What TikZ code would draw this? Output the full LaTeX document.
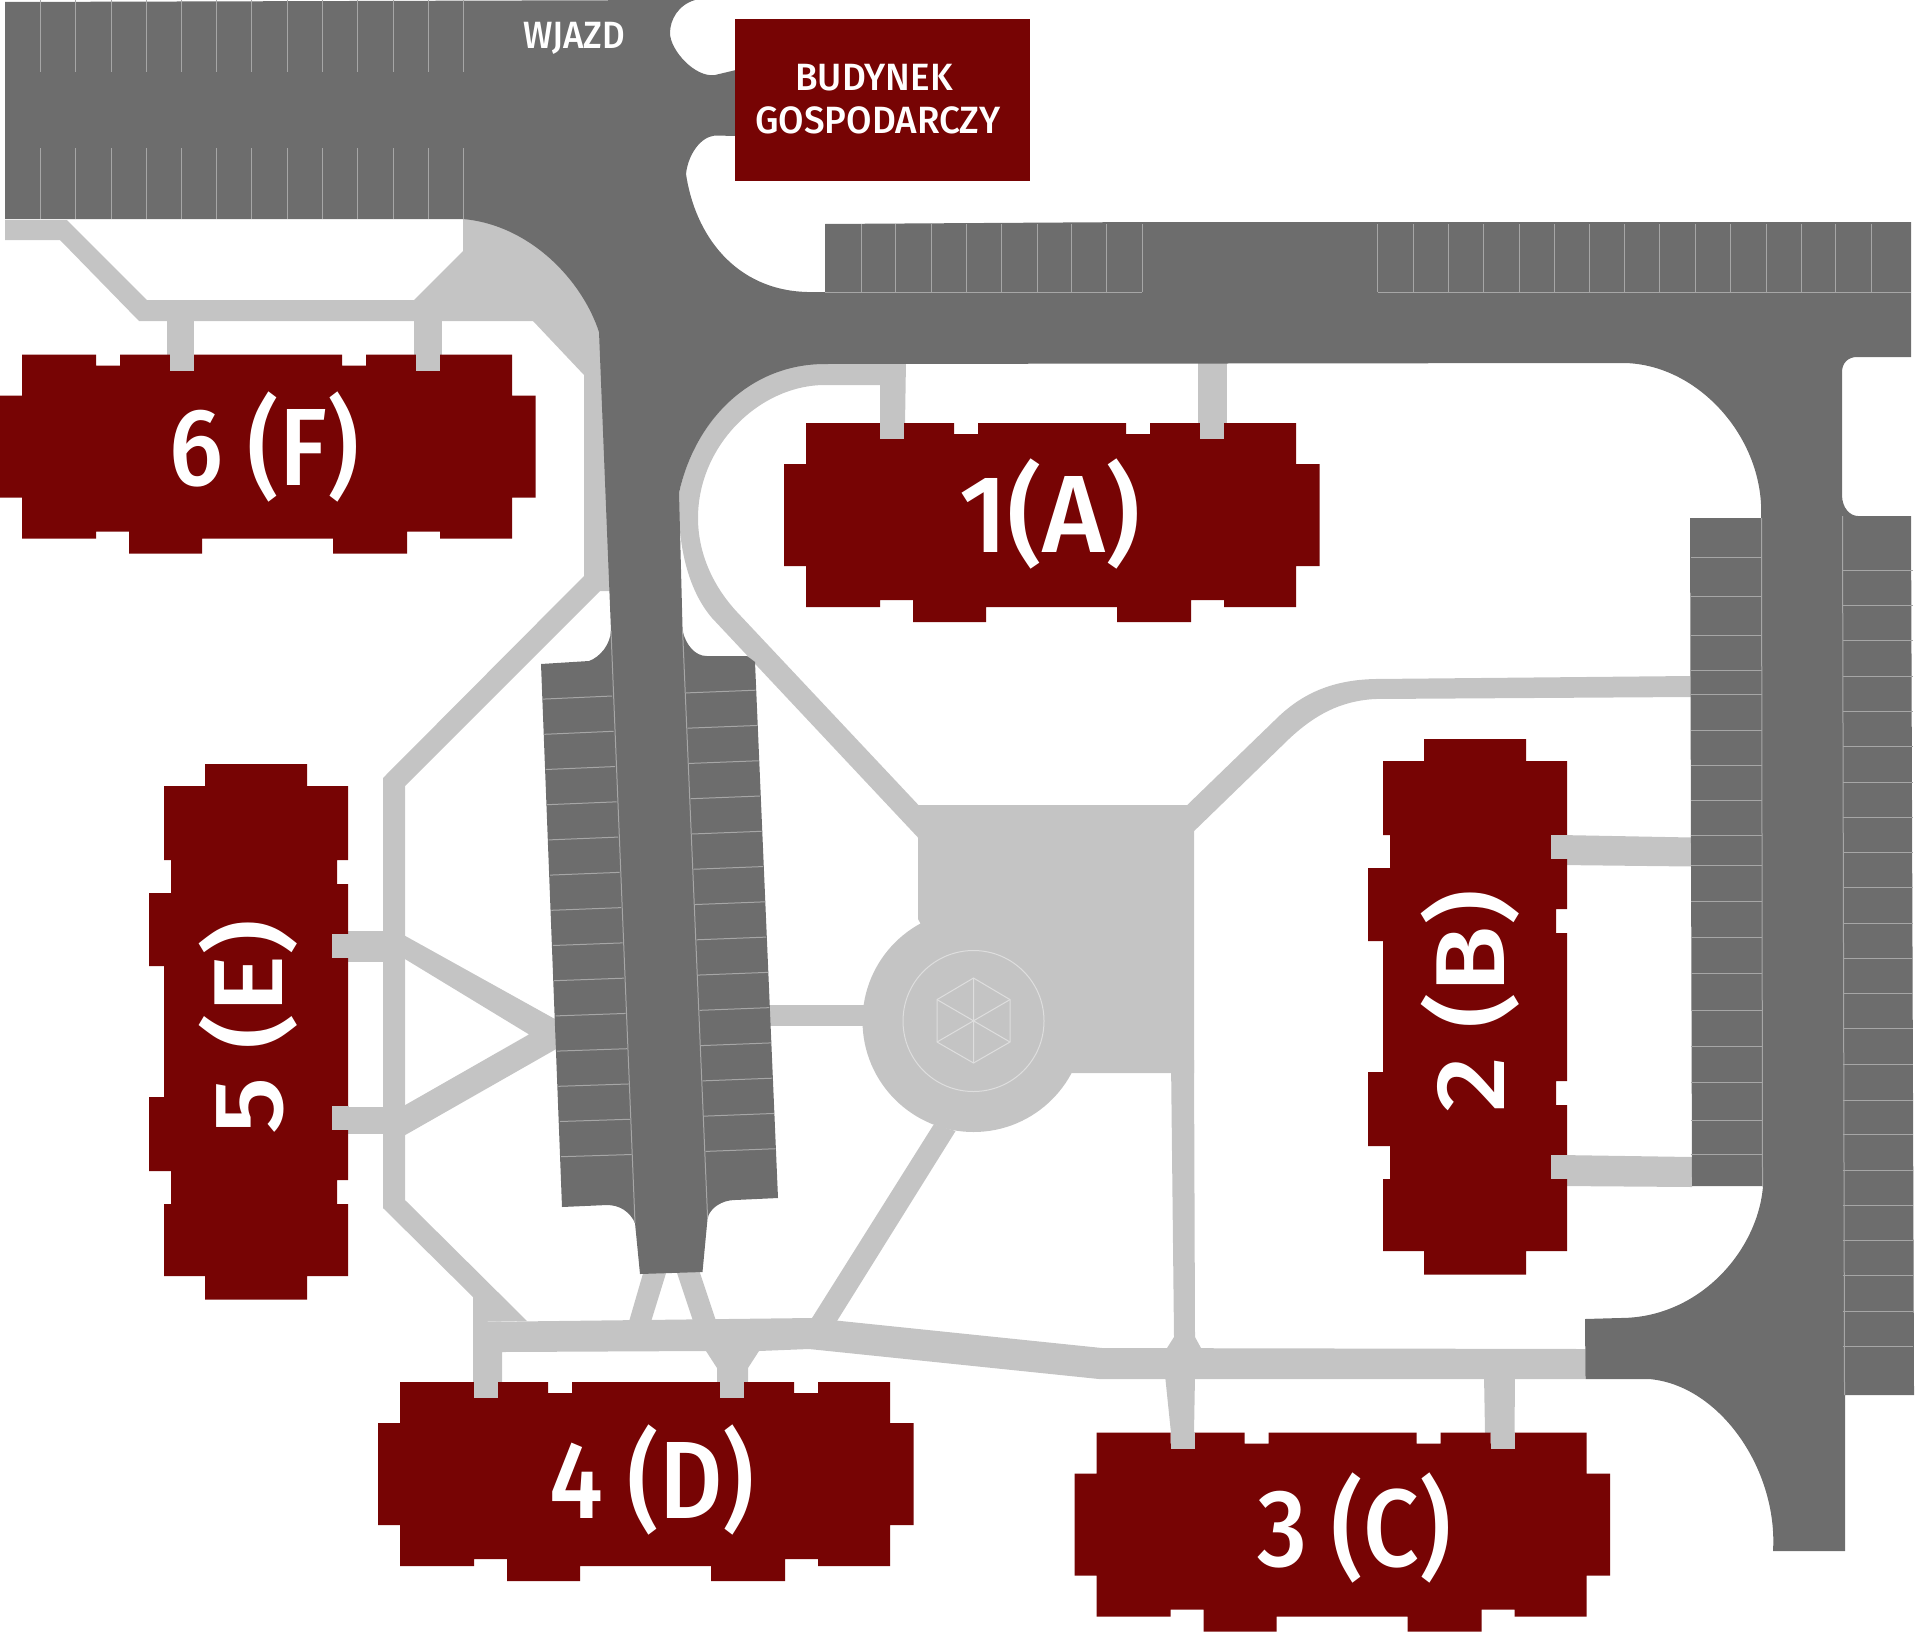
\documentclass[tikz,border=0pt]{standalone}
\usepackage{fontspec}
\setmainfont{Fira Sans Medium}
\definecolor{road}{HTML}{6D6D6D}
\definecolor{pave}{HTML}{C4C4C4}
\definecolor{wine}{HTML}{770404}
\definecolor{bayline}{HTML}{A6A6A6}
\definecolor{ringline}{HTML}{DEDEDE}
\tikzset{
  roadfill/.style={fill=road},
  pavefill/.style={fill=pave},
  bldg/.style={fill=wine},
  bay/.style={draw=bayline,line width=0.5pt},
  ring/.style={draw=ringline,line width=0.5pt},
  turned/.style={x={(0pt,-0.5pt)},y={(-0.5pt,0pt)}},
  biglabel/.style={text=white,inner sep=0pt,font=\fontsize{55}{60}\selectfont,xscale=0.89},
  smalllabel/.style={text=white,inner sep=0pt,font=\fontsize{19}{22}\selectfont},
}
\newcommand{\bldgshape}{\fill[bldg] (22,0)--(96,0)--(96,11)--(120,11)--(120,0)--(170,0)--(170,11)--(194,11)--(194,0)--(342,0)--(342,11)--(366,11)--(366,0)--(416,0)--(416,11)--(440,11)--(440,0)--(512,0)--(512,41)--(535.5,41)--(535.5,143)--(512,143)--(512,184)--(440,184)--(440,177)--(407,177)--(407,199)--(333,199)--(333,184)--(202,184)--(202,199)--(129,199)--(129,177)--(96,177)--(96,184)--(22,184)--(22,143)--(0,143)--(0,41)--(22,41)--cycle;}
\newcommand{\doorblock}[1]{\fill[pavefill] (#1,-0.5) rectangle ({#1+24},16);}
\begin{document}
\begin{tikzpicture}[x=0.5pt,y=-0.5pt]
\useasboundingbox (0,0) rectangle (1915,1632);
% ---- paved walkways
\fill[pavefill] (5,220)--(67,220)--(147,300)--(414,300)--(463,251)--(463,210)--(610,210)--(612,591)--(600,591)--(405,786)--(405,1200)--(527,1321)--(473,1322)--(473,1297)--(383,1208)--(383,778)--(584,576)--(584,375)--(533,321)--(139,321)--(60,240)--(5,240)--cycle;
\fill[pavefill] (167,320) rectangle (194,355);
\fill[pavefill] (414,320) rectangle (442,355);
\fill[pavefill] (473,1322)--(812,1318)--(1102,1348)--(1585.5,1349)--(1585.5,1379)--(1099,1379)--(809,1349)--(759,1351)--(748,1368)--(748,1382)--(717,1382)--(717,1368)--(706,1351)--(502,1352)--(502,1382)--(473,1382)--cycle;
\fill[pavefill] (1171,1060)--(1194,1060)--(1195,1337)--(1201,1348)--(1201,1360)--(1167,1360)--(1167,1348)--(1174,1337)--cycle;
\fill[pavefill] (1165,1375)--(1171,1433)--(1194,1433)--(1195,1375)--cycle;
\fill[pavefill] (1484,1375)--(1485,1433)--(1514.5,1433)--(1515,1375)--cycle;
\fill[pavefill] (644,1270)--(628,1325)--(650,1325)--(667,1270)--cycle;
\fill[pavefill] (676,1270)--(694.4,1325)--(717.4,1325)--(699,1270)--cycle;
\fill[pavefill] (933.7,1124.5)--(812,1318)--(812,1325)--(837,1321)--(955.6,1131)--cycle;
\fill[pavefill] (906,360)--(825,360)..controls (750,364) and (695,420)..(679,493)..controls (677,545) and (688,590)..(712,618)--(925,845)--(925,812)--(737,612)..controls (712,585) and (698,552)..(698,518)..controls (698,445) and (760,385)..(825,385)--(880,385)--(880,425)--(905,425)--cycle;
\fill[pavefill] (1198,360) rectangle (1227,424);
\fill[pavefill] (1180,812)--(1275,720)..controls (1300,695) and (1330,680)..(1375,679)--(1691,676)--(1691,697)--(1375,699)..controls (1340,701) and (1315,715)..(1290,738)--(1190,835)--cycle;
\fill[pavefill] (918,805)--(1187,805)--(1194,828)--(1194,1073)--(1071,1073)--(973.5,1021)--(918,919)--cycle;
\fill[pavefill] (973.5,1021) circle[radius=111];
\fill[pavefill] (765,1005)--(870,1005)--(870,1026)--(765,1026)--cycle;
\fill[pavefill] (1560,835)--(1692,837.5)--(1692,866.5)--(1560,865)--cycle;
\fill[pavefill] (1560,1155)--(1692,1157)--(1692,1187)--(1560,1186)--cycle;
\fill[pavefill] (340,931) rectangle (390,961.5);
\fill[pavefill] (340,1107) rectangle (390,1134.4);
\fill[pavefill] (400,933)--(556,1019.6)--(558,1048)--(400,1138)--(400,1108)--(529,1034.4)--(400,956)--cycle;
% ---- fountain
\draw[ring] (973.5,1021) circle[radius=70.5];
\draw[ring] (973.5,978)--(1010,999.6)--(1010,1042)--(973.5,1063)--(937,1042)--(937,999.6)--cycle;
\draw[ring] (973.5,978)--(973.5,1063) (1010,999.6)--(937,1042) (1010,1042)--(937,999.6);
% ---- roads and parking
\fill[roadfill] (5,2)--(695,0)..controls (678,5) and (670,20)..(670,33)..controls (670,50) and (695,78)..(715,75)--(736,70)--(736,136)--(715,135.5)..controls (700,137) and (688,155)..(686,174)..controls (695,235) and (735,290)..(807,292)--(825,292)--(825,224)--(1142,222)--(1911,222)--(1911,357)--(1857,357)..controls (1848,357) and (1842,363)..(1842,372)--(1842,495)..controls (1842,508) and (1850,516)..(1858,516)--(1911,516)--(1914,1395)--(1845,1395)--(1845,1551)--(1773,1551)..controls (1778,1470) and (1720,1385)..(1649,1379)--(1585.5,1379)--(1585,1319)--(1620,1318)..controls (1700,1318) and (1758,1250)..(1763,1186)--(1692,1186)--(1690,518)--(1761,518)..controls (1765,440) and (1700,365)..(1625,363)--(825,364)..controls (750,364) and (695,420)..(679,493)--(682.6,631)..controls (686,645) and (695,656)..(706.6,656)--(747,656)--(755,662)--(778,1198)--(735,1200)..controls (722,1200) and (710,1208)..(707.6,1218)--(702.5,1272)--(640,1274)--(635,1223)..controls (630,1212) and (620,1205)..(607,1205)--(562,1207)--(541,664)--(589,661)..controls (600,657) and (610,645)..(611,631)--(599,332)..controls (582,280) and (530,225)..(463,219)--(5,219)--cycle;
% bays: top left
\foreach \bx in {40,75,111,146,181,216,251,287,322,357,393,428,463}{
  \draw[bay] (\bx,0)--(\bx,72.5);
  \draw[bay] (\bx,148)--(\bx,219);
}
% bays: upper road
\foreach \bx in {861,895,931,966,1001,1037,1071,1106.5,1142,1377.6,1413,1448,1483.5,1519,1554,1589,1624.7,1659.6,1695,1730,1766,1801,1835.7,1871}{
  \draw[bay] (\bx,224)--(\bx,292.4);
}
\draw[bay] (825,292.4)--(1142,292.4) (1377.6,292.4)--(1911,292.4);
% bays: right inner
\foreach \by in {557.6,596.4,635,670.5,694.6,730,765,800.4,835.3,865,901,937,973,1010,1046,1082.7,1120,1154}{
  \draw[bay] (1690.5,\by)--(1761.5,\by);
}
\draw[bay] (1761.5,518)--(1762.5,1186);
% bays: right outer
\foreach \by in {570,605,640.6,676,711,746,782,817,852,887.5,923,958,993,1028,1064,1100,1134,1170,1205,1240,1275,1311,1346}{
  \draw[bay] (1842.5,\by)--(1913,\by);
}
\draw[bay] (1842.5,516)--(1844.5,1395);
% bays: central road
\foreach \i in {0,...,13}{
  \draw[bay] ({542.9+1.41*\i},{699.1+35.2*\i})--({612.2+1.49*\i},{696+35.27*\i});
  \draw[bay] ({686.2+1.49*\i},{692.9+35.27*\i})--({755.6+1.53*\i},{690.2+35.27*\i});
}
\draw[bay] (611,631)--(635,1223) (682.6,631)--(707.6,1218);
% ---- buildings
\fill[bldg] (735,19) rectangle (1030,181);
\begin{scope}[shift={(784,423)}]
  \bldgshape \doorblock{96} \doorblock{416}
\end{scope}
\begin{scope}[shift={(0,354.5)}]
  \bldgshape \doorblock{170} \doorblock{416}
\end{scope}
\begin{scope}[shift={(378,1382)}]
  \bldgshape \doorblock{96} \doorblock{342}
\end{scope}
\begin{scope}[shift={(1074.5,1432.5)}]
  \bldgshape \doorblock{96} \doorblock{416}
\end{scope}
\begin{scope}[shift={(1567,739)},turned]
  \bldgshape \doorblock{96} \doorblock{416}
\end{scope}
\begin{scope}[shift={(348,764)},turned]
  \bldgshape \doorblock{170} \doorblock{342}
\end{scope}
% ---- labels
\node[biglabel] (lf) at (264,447) {6 (F)};
\node[biglabel,xscale=1.1] (la) at (1050,514) {1(A)};
\node[biglabel] (lc) at (1354,1528) {3 (C)};
\node[biglabel] (ld) at (652,1480) {4 (D)};
\node[biglabel,rotate=90] (lb) at (1470,1001) {2 (B)};
\node[biglabel,rotate=90] (le) at (248,1027) {5 (E)};
\node[smalllabel,xscale=0.92] (lw) at (574,38) {WJAZD};
\node[smalllabel,xscale=0.97] (lb1) at (874,78) {BUDYNEK};
\node[smalllabel,xscale=0.97] (lb2) at (878,120) {GOSPODARCZY};
\end{tikzpicture}
\end{document}
